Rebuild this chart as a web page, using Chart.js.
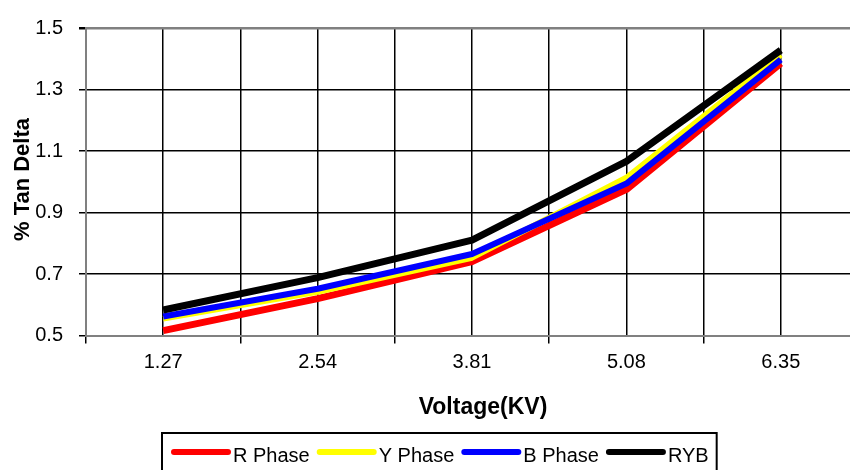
<!DOCTYPE html>
<html>
<head>
<meta charset="utf-8">
<title>% Tan Delta vs Voltage</title>
<script src="https://cdn.jsdelivr.net/npm/chart.js@4.4.1/dist/chart.umd.min.js"></script>
<style>
  html, body { margin: 0; padding: 0; background: #fff; overflow: hidden; }
  #wrap { width: 870px; height: 470px; }
</style>
</head>
<body>
<div id="wrap"><canvas id="chart" width="870" height="470"></canvas></div>
<script>
const voltages = [1.27, 2.54, 3.81, 5.08, 6.35];
const rPhase = [0.516, 0.62, 0.74, 0.975, 1.385];
const yPhase = [0.555, 0.642, 0.753, 1.013, 1.413];
const bPhase = [0.562, 0.652, 0.765, 0.994, 1.397];
const rybPhase = [0.583, 0.688, 0.81, 1.066, 1.428];
const yTicks = [0.5, 0.7, 0.9, 1.1, 1.3, 1.5];
const seriesNames = ['R Phase', 'Y Phase', 'B Phase', 'RYB'];
const seriesColors = ['#ff0000', '#ffff00', '#0000ff', '#000000'];
const xTitle = 'Voltage(KV)';
const yTitle = '% Tan Delta';

const FONT = '"Liberation Sans", Arial, sans-serif';
const step = voltages[1] - voltages[0];

function toPoints(vals) {
    return voltages.map((v, i) => ({ x: v, y: vals[i] }));
}

// labels sit on the category centres, tick marks on the half-way lines
function isCentre(value) {
    return voltages.some(v => Math.abs(v - value) < 1e-6);
}

const widths = [7, 6, 6, 7];
const datasets = [rPhase, yPhase, bPhase, rybPhase].map((vals, i) => ({
    label: seriesNames[i],
    data: toPoints(vals),
    borderColor: seriesColors[i],
    backgroundColor: seriesColors[i],
    borderWidth: widths[i],
    pointRadius: 0,
    tension: 0,
    borderJoinStyle: 'round',
    order: 4 - i
}));

// axis titles and the boxed legend under the plot
const decorations = {
    id: 'decorations',
    afterDraw(chart) {
        const ctx = chart.ctx;
        ctx.save();
        ctx.fillStyle = '#000';
        ctx.textAlign = 'center';
        ctx.textBaseline = 'middle';
        ctx.font = 'bold 23px ' + FONT;
        ctx.fillText(xTitle, 483, 408);
        ctx.save();
        ctx.translate(22.5, 179.5);
        ctx.rotate(-Math.PI / 2);
        ctx.font = 'bold 22px ' + FONT;
        ctx.fillText(yTitle, 0, 0);
        ctx.restore();

        ctx.font = '20px ' + FONT;
        ctx.textAlign = 'left';
        ctx.textBaseline = 'alphabetic';
        const left = 162, top = 433;
        let x = left + 12;
        chart.data.datasets.forEach((ds, i) => {
            ctx.strokeStyle = ds.borderColor;
            ctx.lineWidth = 6;
            ctx.lineCap = 'round';
            ctx.beginPath();
            ctx.moveTo(x, 452);
            ctx.lineTo(x + 54, 452);
            ctx.stroke();
            ctx.fillStyle = '#000';
            ctx.fillText(ds.label, x + 59, 462);
            x += 59 + ctx.measureText(ds.label).width;
            if (i < chart.data.datasets.length - 1) x += 10;
        });
        ctx.lineCap = 'butt';
        ctx.lineWidth = 2;
        ctx.strokeStyle = '#000';
        ctx.strokeRect(left, top, x + 8 - left, 60);
        ctx.restore();
    }
};

new Chart(document.getElementById('chart'), {
    type: 'line',
    data: { datasets: datasets },
    plugins: [decorations],
    options: {
        responsive: false,
        animation: false,
        layout: { padding: { top: 19, right: 12, left: 0, bottom: 0 } },
        plugins: {
            legend: { display: false },
            tooltip: { enabled: false }
        },
        scales: {
            x: {
                type: 'linear',
                min: voltages[0] - step / 2,
                max: voltages[voltages.length - 1] + step / 2,
                afterBuildTicks: scale => {
                    const ticks = [];
                    voltages.forEach(v => {
                        ticks.push({ value: v - step / 2 });
                        ticks.push({ value: v });
                    });
                    ticks.push({ value: voltages[voltages.length - 1] + step / 2 });
                    scale.ticks = ticks;
                },
                afterFit: scale => { scale.height = 134.5; },
                ticks: {
                    autoSkip: false,
                    maxRotation: 0,
                    padding: 7,
                    color: '#000',
                    font: { family: FONT, size: 20 },
                    callback: value => {
                        const v = voltages.find(c => Math.abs(c - value) < 1e-6);
                        return v === undefined ? '' : v.toFixed(2);
                    }
                },
                grid: {
                    color: '#000',
                    lineWidth: 1.5,
                    tickLength: 8,
                    tickColor: ctx => (ctx.tick && isCentre(ctx.tick.value)) ? 'rgba(0,0,0,0)' : '#000'
                },
                border: { color: '#808080', width: 2 }
            },
            y: {
                min: yTicks[0],
                max: yTicks[yTicks.length - 1],
                afterBuildTicks: scale => {
                    scale.ticks = yTicks.map(v => ({ value: v }));
                },
                afterFit: scale => { scale.width = 86; },
                ticks: {
                    padding: 16,
                    color: '#000',
                    font: { family: FONT, size: 20 },
                    callback: value => value.toFixed(1)
                },
                grid: {
                    color: ctx => (ctx.tick && ctx.tick.value === yTicks[yTicks.length - 1]) ? '#808080' : '#000',
                    lineWidth: ctx => (ctx.tick && ctx.tick.value === yTicks[yTicks.length - 1]) ? 2.5 : 1.5,
                    tickLength: 7,
                    tickColor: '#000'
                },
                border: { color: '#808080', width: 2 }
            }
        }
    }
});
</script>
</body>
</html>
